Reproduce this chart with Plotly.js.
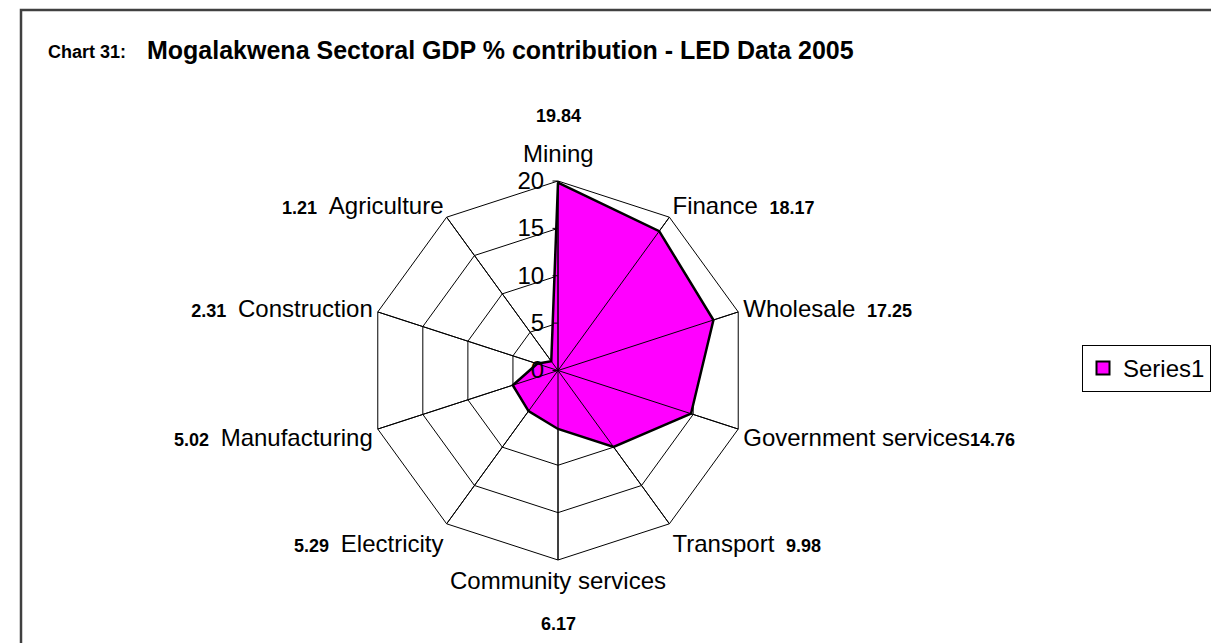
<!DOCTYPE html>
<html>
<head>
<meta charset="utf-8">
<script src="https://cdn.plot.ly/plotly-3.0.1.min.js"></script>
<style>html,body{margin:0;padding:0;background:#fff;}#chart{width:1211px;height:643px;}</style>
</head>
<body>
<div id="chart"></div>
<script>
const categories = ["Mining", "Finance", "Wholesale", "Government services", "Transport",
  "Community services", "Electricity", "Manufacturing", "Construction", "Agriculture"];
const values = [19.84, 18.17, 17.25, 14.76, 9.98, 6.17, 5.29, 5.02, 2.31, 1.21];
const valueLabels = ["19.84", "18.17", "17.25", "14.76", "9.98", "6.17", "5.29", "5.02", "2.31", "1.21"];
const labelSide = ["top", "right", "right", "right", "right", "bottom", "left", "left", "left", "left"];
const radialTicks = [0, 5, 10, 15, 20];
const seriesName = "Series1";
const titleMain = "Mogalakwena Sectoral GDP % contribution - LED Data 2005";
const titlePrefix = "Chart 31:";

const W = 1211, H = 643;
const cx = 558, cy = 370.5, R = 189.5;
const NB = "\u00a0";
const FONT = "Arial, Liberation Sans, sans-serif";
const valSpan = s => "<b><span style='font-size:18px'>" + s + "</span></b>";

const tickText = categories.map((c, i) => {
  const side = labelSide[i];
  if (side === "right") {
    const gap = c === "Government services" ? "" : NB + "<span style='font-size:18px'>" + NB + "</span>";
    return c + gap + valSpan(valueLabels[i]);
  }
  if (side === "left") return valSpan(valueLabels[i]) + "<span style='font-size:18px'>" + NB + "</span>" + NB + c;
  if (side === "top") return "";
  return c;
});

const rMax = radialTicks[radialTicks.length - 1];
const traces = [];
traces.push({
  type: "scatterpolar",
  r: values.concat([values[0]]),
  theta: categories.concat([categories[0]]),
  mode: "lines",
  fill: "toself",
  fillcolor: "#FF00FF",
  line: {color: "#000000", width: 2.5},
  showlegend: false,
  hoverinfo: "skip"
});
categories.forEach(c => {
  traces.push({
    type: "scatterpolar",
    r: [0, rMax],
    theta: [c, c],
    mode: "lines",
    line: {color: "#000000", width: 1},
    showlegend: false,
    hoverinfo: "skip"
  });
});
traces.push({
  type: "scatterpolar",
  r: [null],
  theta: [null],
  mode: "markers",
  name: seriesName,
  marker: {symbol: "square", size: 13, color: "#FF00FF", line: {color: "#000000", width: 2}},
  showlegend: true
});

const dom = {
  x: [(cx - R) / W, (cx + R) / W],
  y: [(H - cy - R) / H, (H - cy + R) / H]
};

const annotations = [];
categories.forEach((c, i) => {
  if (labelSide[i] === "top") {
    annotations.push({xref: "paper", yref: "paper", x: cx / W, y: dom.y[1], yanchor: "middle", xanchor: "center",
      yshift: 65, showarrow: false, text: valSpan(valueLabels[i]), font: {family: FONT, size: 18, color: "#000"}});
    annotations.push({xref: "paper", yref: "paper", x: cx / W, y: dom.y[1], yanchor: "middle", xanchor: "center",
      yshift: 28, showarrow: false, text: c, font: {family: FONT, size: 24, color: "#000"}});
  } else if (labelSide[i] === "bottom") {
    annotations.push({xref: "paper", yref: "paper", x: cx / W, y: dom.y[0], yanchor: "middle", xanchor: "center",
      yshift: -64, showarrow: false, text: valSpan(valueLabels[i]), font: {family: FONT, size: 18, color: "#000"}});
  }
});
annotations.push({xref: "paper", yref: "paper", x: 46 / W, y: 1 - 52 / H, xanchor: "left", yanchor: "middle",
  showarrow: false, text: "<b>" + titlePrefix + "</b>", font: {family: FONT, size: 18, color: "#000"}});

const layout = {
  width: W, height: H,
  margin: {l: 0, r: 0, t: 0, b: 0},
  paper_bgcolor: "#ffffff",
  font: {family: FONT, color: "#000"},
  title: {
    text: "<b>" + titleMain + "</b>",
    font: {family: FONT, size: 25, color: "#000"},
    x: 147 / W, xanchor: "left", xref: "container",
    y: 1 - 50 / H, yanchor: "middle", yref: "container"
  },
  showlegend: true,
  legend: {
    x: 1082 / W, xanchor: "left", y: 1 - 368.5 / H, yanchor: "middle",
    bordercolor: "#000000", borderwidth: 1, bgcolor: "#ffffff",
    font: {family: FONT, size: 24, color: "#000"},
    itemwidth: 30
  },
  polar: {
    domain: dom,
    bgcolor: "#ffffff",
    gridshape: "linear",
    radialaxis: {
      range: [0, rMax],
      tickvals: radialTicks,
      ticktext: radialTicks.map(String),
      angle: 90,
      tickangle: 90,
      side: "counterclockwise",
      showline: true, linecolor: "#000", linewidth: 1,
      ticks: "outside", ticklen: 5, tickcolor: "#000",
      gridcolor: "#000", gridwidth: 1,
      tickfont: {family: FONT, size: 24, color: "#000"}
    },
    angularaxis: {
      type: "category",
      categoryorder: "array",
      categoryarray: categories,
      tickvals: categories,
      ticktext: tickText,
      direction: "clockwise",
      rotation: 90,
      showline: true, linecolor: "#000", linewidth: 1,
      gridcolor: "#000", gridwidth: 1,
      ticks: "",
      tickfont: {family: FONT, size: 24, color: "#000"}
    }
  },
  annotations: annotations,
  shapes: [{
    type: "rect", xref: "paper", yref: "paper",
    x0: 21 / W, x1: 1.3, y0: -0.3, y1: 1 - 10 / H,
    line: {color: "#404040", width: 2.5}, fillcolor: "rgba(0,0,0,0)", layer: "below"
  }]
};

Plotly.newPlot("chart", traces, layout, {displayModeBar: false, staticPlot: true});
</script>
</body>
</html>
